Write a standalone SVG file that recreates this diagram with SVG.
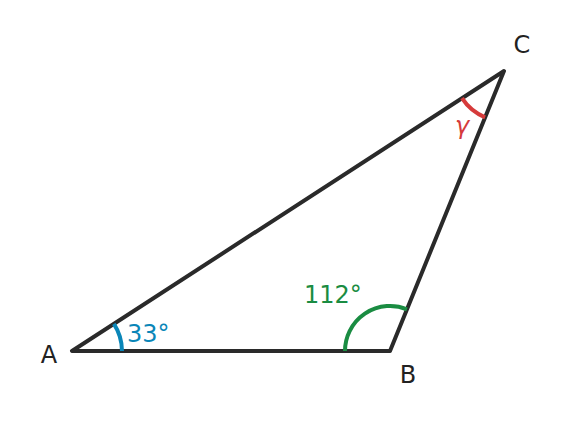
<svg xmlns="http://www.w3.org/2000/svg" width="576" height="424" viewBox="0 0 576 424">
<style>
text{font-family:"DejaVu Sans","Liberation Sans",sans-serif;font-size:24px}
.lbl{fill:#222}
.edge{fill:none;stroke:#2a2a2a;stroke-width:4;stroke-linejoin:round;stroke-linecap:round}
.arc{fill:none;stroke-width:4}
</style>
<rect width="576" height="424" fill="#fff"/>
<g id="connectors">
<path class="edge" d="M72,351 L390,351 L504,71 Z"/>
</g>
<g id="angleA">
<path class="arc" stroke="#0a86b8" d="M122,351 A50,50 0 0 0 113.9,323.8"/>
<text x="127" y="342" fill="#0a86b8">33°</text>
</g>
<g id="angleB">
<path class="arc" stroke="#1a8c42" d="M345,351 A45,45 0 0 1 407,309.3"/>
<text x="304" y="303" fill="#1a8c42">112°</text>
</g>
<g id="angleC">
<path class="arc" stroke="#d63b3b" d="M462,98.2 A50,50 0 0 0 485.1,117.3"/>
<text x="462" y="134" fill="#d63b3b" text-anchor="middle" font-style="italic">γ</text>
</g>
<g id="A"><text class="lbl" x="49" y="363" text-anchor="middle">A</text></g>
<g id="B"><text class="lbl" x="408" y="383" text-anchor="middle">B</text></g>
<g id="C"><text class="lbl" x="522" y="53" text-anchor="middle">C</text></g>
</svg>
